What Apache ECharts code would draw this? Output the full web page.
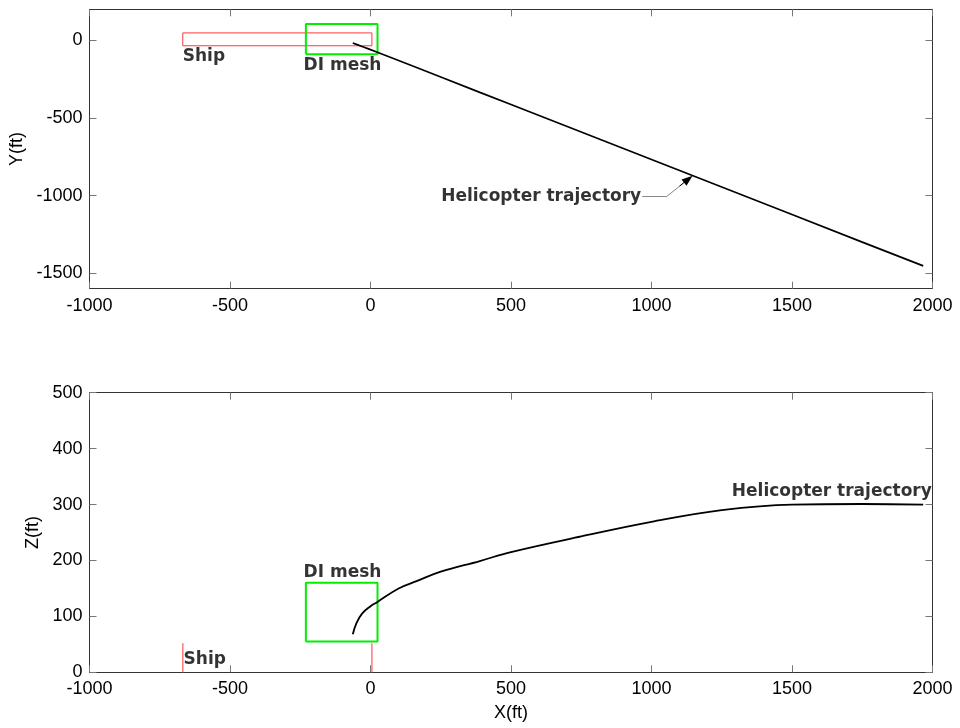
<!DOCTYPE html>
<html>
<head>
<meta charset="utf-8">
<script src="https://cdn.jsdelivr.net/npm/echarts@6/dist/echarts.min.js"></script>
<style>
  html, body { margin: 0; padding: 0; background: #fff; }
  #main { width: 960px; height: 728px; }
</style>
</head>
<body>
<div id="main"></div>
<script>
// ship outline (plan view) and its side posts (elevation)
const shipX = [-668, 5];
const shipY = [-35, 48];
const shipZ = [0, 52];
// DI mesh box
const meshX = [-230, 25];
const meshY = [-90, 105];
const meshZ = [55, 160];
// helicopter trajectory
const trajX = [-63, -50, -30, 0, 22, 100, 164, 250, 389, 500, 750, 1000, 1250, 1500, 1750, 1967];
const trajY = [-17, -26, -40, -60, -75, -130, -175, -236, -335, -413, -590, -768, -945, -1122, -1300, -1453];
const trajZ = [68, 88, 105, 118, 125, 150, 163, 180, 199, 215, 243, 269, 290, 300, 301, 300];
// tick values
const yTicks = [-1500, -1000, -500, 0];

const tickFont = { fontFamily: 'Liberation Sans, Arial', fontSize: 18, color: '#000' };
const noteFont = { fontFamily: 'DejaVu Sans', fontWeight: 'bold', fontSize: 17, color: '#000', textBorderWidth: 0 };
const plain = v => String(v);

function box(xs, ys) {
  return [[xs[0], ys[0]], [xs[1], ys[0]], [xs[1], ys[1]], [xs[0], ys[1]], [xs[0], ys[0]]];
}

function axisBase(extra) {
  return Object.assign({
    type: 'value',
    splitLine: { show: false },
    axisLine: { show: true, onZero: false, lineStyle: { color: '#333', width: 1 } },
    axisTick: { show: true, inside: true, length: 7, lineStyle: { color: '#777', width: 1 } },
    axisLabel: Object.assign({ show: true, formatter: plain }, tickFont)
  }, extra);
}

function xAx(grid, pos, labels, name) {
  return axisBase({
    gridIndex: grid, position: pos, min: -1000, max: 2000, interval: 500,
    axisLabel: Object.assign({ show: labels, margin: 8, formatter: plain }, tickFont),
    name: name || '', nameLocation: 'middle', nameGap: 32,
    nameTextStyle: Object.assign({ verticalAlign: 'top' }, tickFont)
  });
}

function note(name, value, side) {
  return {
    name: name, value: value,
    label: Object.assign({ show: true, position: side, distance: 0, formatter: p => p.name }, noteFont)
  };
}

const chart = echarts.init(document.getElementById('main'));

const option = {
  animation: false,
  backgroundColor: '#fff',
  grid: [
    { left: 89.5, right: 27.5, top: 9.3, height: 279.4, containLabel: false, outerBoundsMode: 'none' },
    { left: 89.5, right: 27.5, top: 392.7, height: 279.6, containLabel: false, outerBoundsMode: 'none' }
  ],
  xAxis: [
    xAx(0, 'bottom', true),
    xAx(0, 'top', false),
    xAx(1, 'bottom', true, 'X(ft)'),
    xAx(1, 'top', false)
  ],
  yAxis: [
    axisBase({
      gridIndex: 0, position: 'left', min: -1600, max: 200,
      axisTick: { show: true, inside: true, length: 7, customValues: yTicks, lineStyle: { color: '#777' } },
      axisLabel: Object.assign({ margin: 7, customValues: yTicks, formatter: plain }, tickFont),
      name: 'Y(ft)', nameLocation: 'middle', nameGap: 57, nameRotate: 90,
      nameTextStyle: tickFont
    }),
    axisBase({
      gridIndex: 0, position: 'right', min: -1600, max: 200,
      axisTick: { show: true, inside: true, length: 7, customValues: yTicks, lineStyle: { color: '#777' } },
      axisLabel: { show: false }
    }),
    axisBase({
      gridIndex: 1, position: 'left', min: 0, max: 500, interval: 100,
      axisLabel: Object.assign({ margin: 7, formatter: plain }, tickFont),
      name: 'Z(ft)', nameLocation: 'middle', nameGap: 42, nameRotate: 90,
      nameTextStyle: tickFont
    }),
    axisBase({
      gridIndex: 1, position: 'right', min: 0, max: 500, interval: 100,
      axisLabel: { show: false }
    })
  ],
  series: [
    {
      type: 'line', xAxisIndex: 0, yAxisIndex: 0, symbol: 'none', silent: true,
      data: box(shipX, shipY), lineStyle: { color: '#ff3a3a', width: 1 }
    },
    {
      type: 'line', xAxisIndex: 0, yAxisIndex: 0, symbol: 'none', silent: true,
      data: box(meshX, meshY), lineStyle: { color: '#00ee00', width: 2 }
    },
    {
      type: 'line', xAxisIndex: 0, yAxisIndex: 0, symbol: 'none', silent: true,
      data: trajX.map((x, i) => [x, trajY[i]]), lineStyle: { color: '#000', width: 1.7 },
      markLine: {
        silent: true, symbol: ['none', 'none'], label: { show: false },
        lineStyle: { color: '#888', width: 1, type: 'solid' },
        data: [
          [{ coord: [967, -1006] }, { coord: [1054, -1006] }],
          [{ coord: [1054, -1006] }, { coord: [1110, -925] }],
          [
            { coord: [1100, -939], lineStyle: { color: '#000', width: 1 } },
            { coord: [1131, -894], symbol: 'triangle', symbolSize: [8, 11], lineStyle: { color: '#000', width: 1 } }
          ]
        ]
      }
    },
    {
      type: 'line', xAxisIndex: 2, yAxisIndex: 2, symbol: 'none', silent: true,
      data: [[shipX[0], shipZ[0]], [shipX[0], shipZ[1]]], lineStyle: { color: '#ff7777', width: 1.5 }
    },
    {
      type: 'line', xAxisIndex: 2, yAxisIndex: 2, symbol: 'none', silent: true,
      data: [[shipX[1], shipZ[0]], [shipX[1], shipZ[1]]], lineStyle: { color: '#ff7777', width: 1.5 }
    },
    {
      type: 'line', xAxisIndex: 2, yAxisIndex: 2, symbol: 'none', silent: true,
      data: box(meshX, meshZ), lineStyle: { color: '#00ee00', width: 2 }
    },
    {
      type: 'line', xAxisIndex: 2, yAxisIndex: 2, symbol: 'none', silent: true, smooth: 0.4,
      data: trajX.map((x, i) => [x, trajZ[i]]), lineStyle: { color: '#000', width: 1.8 }
    },
    // text notes
    {
      type: 'scatter', xAxisIndex: 0, yAxisIndex: 0, symbolSize: 1, silent: true,
      itemStyle: { color: 'rgba(255,255,255,0)' },
      data: [
        note('Ship', [-670, -105], 'right'),
        note('DI mesh', [-240, -163], 'right'),
        note('Helicopter trajectory', [965, -1006], 'left')
      ]
    },
    {
      type: 'scatter', xAxisIndex: 2, yAxisIndex: 2, symbolSize: 1, silent: true,
      itemStyle: { color: 'rgba(255,255,255,0)' },
      data: [
        note('Ship', [-667, 22], 'right'),
        note('DI mesh', [-240, 179], 'right'),
        note('Helicopter trajectory', [1284, 323], 'right')
      ]
    }
  ]
};

chart.setOption(option);
</script>
</body>
</html>
